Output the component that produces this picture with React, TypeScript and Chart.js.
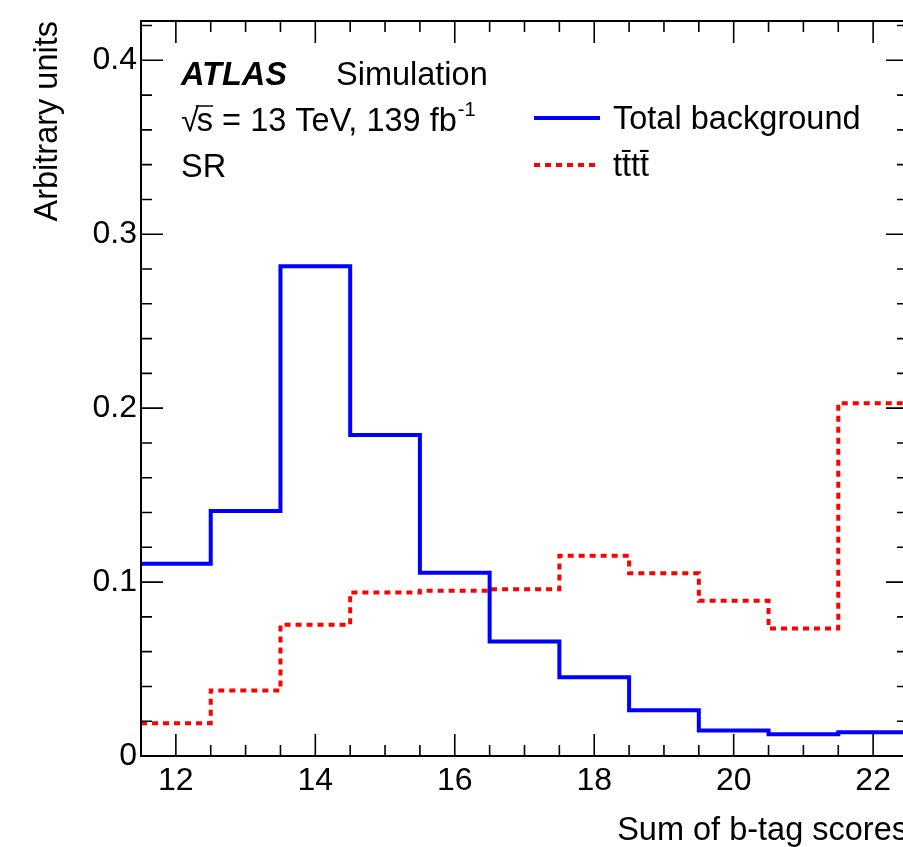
import React, { useEffect, useRef } from "react";
import { Chart, registerables } from "chart.js";

Chart.register(...registerables);

// ---- data ----
const binEdges = [11.5, 12.5, 13.5, 14.5, 15.5, 16.5, 17.5, 18.5, 19.5, 20.5, 21.5, 22.5];
const totalBackground = [0.1105, 0.1408, 0.2816, 0.1845, 0.1053, 0.0659, 0.0453, 0.0263, 0.0146, 0.0125, 0.0136];
const ttttSignal = [0.0189, 0.0377, 0.0755, 0.094, 0.095, 0.0959, 0.1151, 0.1051, 0.0892, 0.0733, 0.2028];
const xTickLabels = [12, 14, 16, 18, 20, 22];
const yTickLabels = [0, 0.1, 0.2, 0.3, 0.4];
const xMin = 11.5;
const xMax = 22.5;
const yMin = 0;
const yMax = 0.4226;
const xMinorStep = 0.5;
const yMinorStep = 0.02;

const FONT = "'Liberation Sans', Arial, Helvetica, sans-serif";
const FS = 32;
const FT = 32.5;

function toPoints(vals: number[]) {
  return binEdges.map((x, i) => ({ x, y: vals[Math.min(i, vals.length - 1)] }));
}

const framePlugin = {
  id: "frame",
  afterDraw(chart: any) {
    const { ctx, chartArea: a, scales } = chart;
    const xs = scales.x;
    const ys = scales.y;
    ctx.save();
    ctx.strokeStyle = "#000";
    ctx.lineWidth = 2;
    ctx.strokeRect(a.left, a.top, a.right - a.left, a.bottom - a.top);
    ctx.lineWidth = 1.6;
    ctx.beginPath();
    const nx = Math.round((xMax - xMin) / xMinorStep);
    for (let i = 0; i <= nx; i++) {
      const v = xMin + i * xMinorStep;
      const major = xTickLabels.some((t) => Math.abs(t - v) < 1e-6);
      const len = major ? 22 : 11;
      const px = xs.getPixelForValue(v);
      if (px <= a.left + 1 || px >= a.right - 1) continue;
      ctx.moveTo(px, a.bottom);
      ctx.lineTo(px, a.bottom - len);
      ctx.moveTo(px, a.top);
      ctx.lineTo(px, a.top + len);
    }
    const ny = Math.floor((yMax - yMin) / yMinorStep + 1e-6);
    for (let i = 0; i <= ny; i++) {
      const v = yMin + i * yMinorStep;
      const major = yTickLabels.some((t) => Math.abs(t - v) < 1e-6);
      const len = major ? 22 : 11;
      const py = ys.getPixelForValue(v);
      if (py >= a.bottom - 1 || py <= a.top + 1) continue;
      ctx.moveTo(a.left, py);
      ctx.lineTo(a.left + len, py);
      ctx.moveTo(a.right, py);
      ctx.lineTo(a.right - len, py);
    }
    ctx.stroke();
    ctx.restore();
  },
};

const labelsPlugin = {
  id: "atlasLabels",
  afterDraw(chart: any) {
    const { ctx } = chart;
    ctx.save();
    ctx.fillStyle = "#000";
    ctx.textBaseline = "alphabetic";
    ctx.textAlign = "left";
    ctx.font = `italic bold ${FT}px ${FONT}`;
    ctx.fillText("ATLAS", 181, 85);
    ctx.font = `${FT}px ${FONT}`;
    ctx.fillText("Simulation", 336, 85);
    const x0 = 181;
    const y1 = 131;
    ctx.fillText("\u221A", x0, y1);
    const rw = ctx.measureText("\u221A").width;
    const sw = ctx.measureText("s").width;
    const rest = "s = 13 TeV, 139 fb";
    ctx.fillText(rest, x0 + rw - 2, y1);
    const restW = ctx.measureText(rest).width;
    ctx.lineWidth = 1.5;
    ctx.strokeStyle = "#000";
    ctx.beginPath();
    ctx.moveTo(x0 + rw - 3, y1 - 25);
    ctx.lineTo(x0 + rw - 2 + sw, y1 - 25);
    ctx.stroke();
    ctx.font = `${Math.round(FT * 0.6)}px ${FONT}`;
    ctx.fillText("-1", x0 + rw - 2 + restW + 1, y1 - 15);
    ctx.font = `${FT}px ${FONT}`;
    ctx.fillText("SR", 181, 177);

    const items = chart.data.datasets.map((d: any, i: number) => ({
      label: d.label,
      color: d.borderColor,
      dash: d.borderDash || [],
      y: 118 + i * 47,
    }));
    for (const it of items) {
      ctx.save();
      ctx.strokeStyle = it.color;
      ctx.lineWidth = 4;
      ctx.setLineDash(it.dash);
      ctx.beginPath();
      ctx.moveTo(534, it.y);
      ctx.lineTo(600, it.y);
      ctx.stroke();
      ctx.restore();
      ctx.font = `${FT}px ${FONT}`;
      ctx.fillStyle = "#000";
      ctx.fillText(it.label, 613, it.y + 11);
    }
    ctx.restore();
  },
};

export default function App() {
  const ref = useRef<HTMLCanvasElement | null>(null);
  useEffect(() => {
    if (!ref.current) return;
    const chart = new Chart(ref.current, {
      type: "line",
      data: {
        datasets: [
          {
            label: "Total background",
            data: toPoints(totalBackground),
            borderColor: "#0000ff",
            borderWidth: 4,
            stepped: "before",
            pointRadius: 0,
            fill: false,
          },
          {
            label: "t\u0074\u0304t\u0074\u0304",
            data: toPoints(ttttSignal),
            borderColor: "#ff0000",
            borderWidth: 4,
            borderDash: [6, 5],
            stepped: "before",
            pointRadius: 0,
            fill: false,
          },
        ],
      },
      options: {
        responsive: false,
        animation: false,
        devicePixelRatio: 1,
        layout: { padding: { top: 21, right: 22, left: 0, bottom: 0 } },
        plugins: { legend: { display: false }, tooltip: { enabled: false } },
        scales: {
          x: {
            type: "linear",
            min: xMin,
            max: xMax,
            grid: { display: false, drawTicks: false },
            border: { display: false },
            afterBuildTicks: (s: any) => {
              s.ticks = xTickLabels.map((v) => ({ value: v }));
            },
            afterFit: (s: any) => {
              s.height = 91;
            },
            ticks: {
              color: "#000",
              font: { family: FONT, size: FS, lineHeight: 1 },
              padding: 9,
              maxRotation: 0,
              autoSkip: false,
              callback: (v: any) => String(v),
            },
            title: {
              display: true,
              text: "Sum of b-tag scores",
              align: "end",
              color: "#000",
              font: { family: FONT, size: FT, lineHeight: 1 },
              padding: { top: 0, bottom: 0 },
            },
          },
          y: {
            type: "linear",
            min: yMin,
            max: yMax,
            grid: { display: false, drawTicks: false },
            border: { display: false },
            afterBuildTicks: (s: any) => {
              s.ticks = yTickLabels.map((v) => ({ value: v }));
            },
            afterFit: (s: any) => {
              s.width = 141;
            },
            ticks: {
              color: "#000",
              font: { family: FONT, size: FS, lineHeight: 1 },
              padding: 4,
              autoSkip: false,
              callback: (v: any) => String(v),
            },
            title: {
              display: true,
              text: "Arbitrary units",
              align: "end",
              color: "#000",
              font: { family: FONT, size: FT, lineHeight: 1 },
              padding: { top: 32, bottom: 0 },
            },
          },
        },
      },
      plugins: [framePlugin, labelsPlugin],
    });
    return () => chart.destroy();
  }, []);

  return (
    <div
      style={{
        position: "fixed",
        left: 0,
        top: 0,
        width: 903,
        height: 847,
        overflow: "hidden",
        background: "#fff",
      }}
    >
      <canvas ref={ref} width={930} height={847} style={{ width: 930, height: 847, display: "block" }} />
    </div>
  );
}
